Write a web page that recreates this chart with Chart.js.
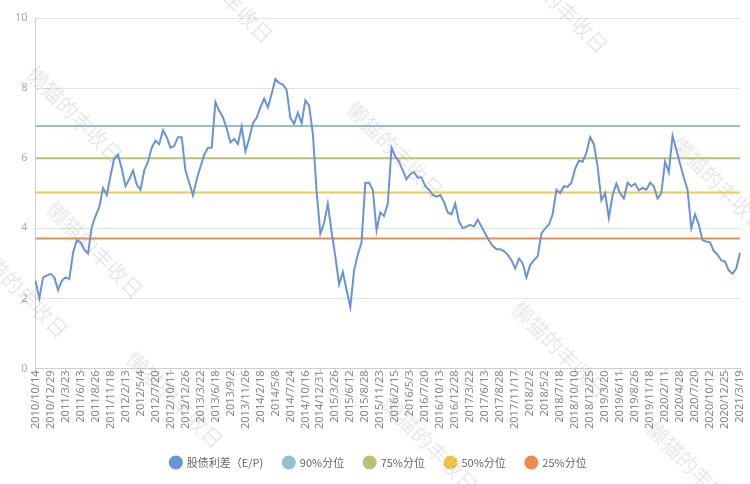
<!DOCTYPE html>
<html>
<head>
<meta charset="utf-8">
<script src="https://cdn.jsdelivr.net/npm/chart.js@4.4.1/dist/chart.umd.min.js"></script>
<style>
  html, body { margin: 0; padding: 0; background: #fff; }
  #wrap { width: 750px; height: 484px; position: relative; }
</style>
</head>
<body>
<div id="wrap"><canvas id="canvas1"></canvas></div>
<script>
"use strict";

// x axis tick labels, one every 4 points
const tickLabels = [
  "2010/10/14", "2010/12/29", "2011/3/23", "2011/6/13", "2011/8/26", "2011/11/18",
  "2012/2/13", "2012/5/4", "2012/7/20", "2012/10/11", "2012/12/26", "2013/3/22",
  "2013/6/18", "2013/9/2", "2013/11/26", "2014/2/18", "2014/5/8", "2014/7/24",
  "2014/10/16", "2014/12/31", "2015/3/26", "2015/6/12", "2015/8/28", "2015/11/23",
  "2016/2/15", "2016/5/3", "2016/7/20", "2016/10/13", "2016/12/28", "2017/3/22",
  "2017/6/13", "2017/8/28", "2017/11/17", "2018/2/2", "2018/5/2", "2018/7/18",
  "2018/10/10", "2018/12/25", "2019/3/20", "2019/6/11", "2019/8/26", "2019/11/18",
  "2020/2/11", "2020/4/28", "2020/7/20", "2020/10/12", "2020/12/25", "2021/3/19"
];
const pointsPerTick = 4;

// 股债利差 (E/P)
const spread = [
  2.5, 2.0, 2.6, 2.65, 2.7, 2.6, 2.24, 2.5, 2.6, 2.55,
  3.3, 3.66, 3.6, 3.4, 3.28, 4.04, 4.35, 4.6, 5.15, 4.95,
  5.5, 6.0, 6.1, 5.7, 5.2, 5.4, 5.65, 5.25, 5.1, 5.65,
  5.9, 6.3, 6.5, 6.4, 6.8, 6.6, 6.3, 6.35, 6.6, 6.6,
  5.65, 5.3, 4.94, 5.4, 5.75, 6.1, 6.3, 6.3, 7.6, 7.35,
  7.17, 6.85, 6.45, 6.55, 6.4, 6.9, 6.2, 6.55, 7.0, 7.15,
  7.45, 7.7, 7.45, 7.83, 8.26, 8.15, 8.1, 7.95, 7.15, 6.98,
  7.3, 7.0, 7.65, 7.5, 6.7, 5.05, 3.85, 4.15, 4.7, 3.9,
  3.2, 2.4, 2.75, 2.24, 1.75, 2.8, 3.25, 3.6, 5.3, 5.3,
  5.1, 3.94, 4.45, 4.35, 4.7, 6.3, 6.05, 5.9, 5.65, 5.4,
  5.55, 5.6, 5.45, 5.45, 5.2, 5.1, 4.95, 4.9, 4.95, 4.75,
  4.45, 4.4, 4.7, 4.2, 4.0, 4.05, 4.1, 4.05, 4.25, 4.05,
  3.85, 3.65, 3.5, 3.4, 3.4, 3.35, 3.25, 3.09, 2.85, 3.14,
  3.0, 2.6, 2.95, 3.09, 3.2, 3.85, 4.0, 4.1, 4.4, 5.1,
  5.0, 5.2, 5.18, 5.3, 5.7, 5.93, 5.9, 6.15, 6.6, 6.4,
  5.75, 4.8, 5.0, 4.3, 4.95, 5.27, 5.0, 4.85, 5.3, 5.2,
  5.27, 5.08, 5.15, 5.1, 5.3, 5.2, 4.85, 5.0, 5.9, 5.6,
  6.64, 6.25, 5.84, 5.45, 5.1, 4.0, 4.4, 4.1, 3.66, 3.62,
  3.6, 3.35, 3.25, 3.09, 3.05, 2.8, 2.7, 2.85, 3.3
];

// percentile levels
const p90 = 6.92;
const p75 = 6.0;
const p50 = 5.02;
const p25 = 3.71;

const seriesNames = ["股债利差（E/P)", "90%分位", "75%分位", "50%分位", "25%分位"];
const seriesColors = ["#6a94d8", "#8fc3c9", "#bcc072", "#f2c94a", "#ee8b4e"];

const labels = spread.map((v, i) => (i % pointsPerTick === 0 ? tickLabels[i / pointsPerTick] : ""));

function flat(v) {
  return labels.map(() => v);
}

function lineSet(name, color, data, width) {
  return {
    label: name,
    data: data,
    borderColor: color,
    backgroundColor: color,
    borderWidth: width,
    pointRadius: 0,
    pointHoverRadius: 0,
    tension: 0,
  };
}

// faint watermark text
const watermark = {
  id: "watermark",
  beforeDatasetsDraw(chart) {
    let ctx = chart.ctx;
    let spots = [[75, 115], [225, -5], [395, 150], [560, 5], [720, 185], [95, 250], [560, 350], [175, 400], [430, 445], [695, 470], [20, 290]];
    ctx.save();
    ctx.font = "21px 'Noto Sans CJK SC'";
    ctx.fillStyle = "rgba(120,120,120,0.17)";
    ctx.textAlign = "center";
    ctx.textBaseline = "middle";
    for (let s of spots) {
      ctx.save();
      ctx.translate(s[0], s[1]);
      ctx.rotate(Math.PI / 4);
      ctx.fillText("懒猫的丰收日", 0, 0);
      ctx.restore();
    }
    ctx.restore();
  }
};

let canvas1 = document.querySelector("#canvas1");

let opts = {
  type: "line",
  data: {
    labels: labels,
    datasets: [
      lineSet(seriesNames[0], seriesColors[0], spread, 2),
      lineSet(seriesNames[1], seriesColors[1], flat(p90), 2),
      lineSet(seriesNames[2], seriesColors[2], flat(p75), 2),
      lineSet(seriesNames[3], seriesColors[3], flat(p50), 2),
      lineSet(seriesNames[4], seriesColors[4], flat(p25), 2),
    ],
  },
  options: {
    responsive: false,
    animation: false,
    layout: { padding: { left: 7, right: 0, top: 18, bottom: 6 } },
    plugins: {
      legend: {
        position: "bottom",
        labels: {
          usePointStyle: true,
          pointStyle: "circle",
          boxWidth: 16,
          boxHeight: 8.5,
          padding: 20,
          color: "#666",
          font: { size: 11, family: "'Noto Sans CJK SC', 'Noto Sans'" },
        },
      },
      tooltip: { enabled: false },
    },
    scales: {
      x: {
        offset: false,
        grid: { drawOnChartArea: false, color: "#cfcfcf", tickLength: 4 },
        border: { color: "#cfcfcf" },
        ticks: {
          autoSkip: false,
          maxRotation: 90,
          minRotation: 90,
          color: "#888",
          padding: -2,
          font: { size: 11, family: "'Noto Sans'" },
          callback: function (value) {
            let l = labels[value];
            return l === "" ? null : l;
          },
        },
        afterFit: function (scale) {
          scale.height += 10;
          scale.paddingRight = 10;
        },
      },
      y: {
        min: 0,
        max: 10,
        ticks: { stepSize: 2, color: "#aaa", padding: 8, font: { size: 11, family: "'Noto Sans'" } },
        grid: { color: "#e3e3e3", tickLength: 0 },
        border: { color: "#cfcfcf" },
      },
    },
  },
  plugins: [watermark],
};

canvas1.width = 750;
canvas1.height = 484;
let c1 = new Chart(canvas1, opts);
</script>
</body>
</html>
